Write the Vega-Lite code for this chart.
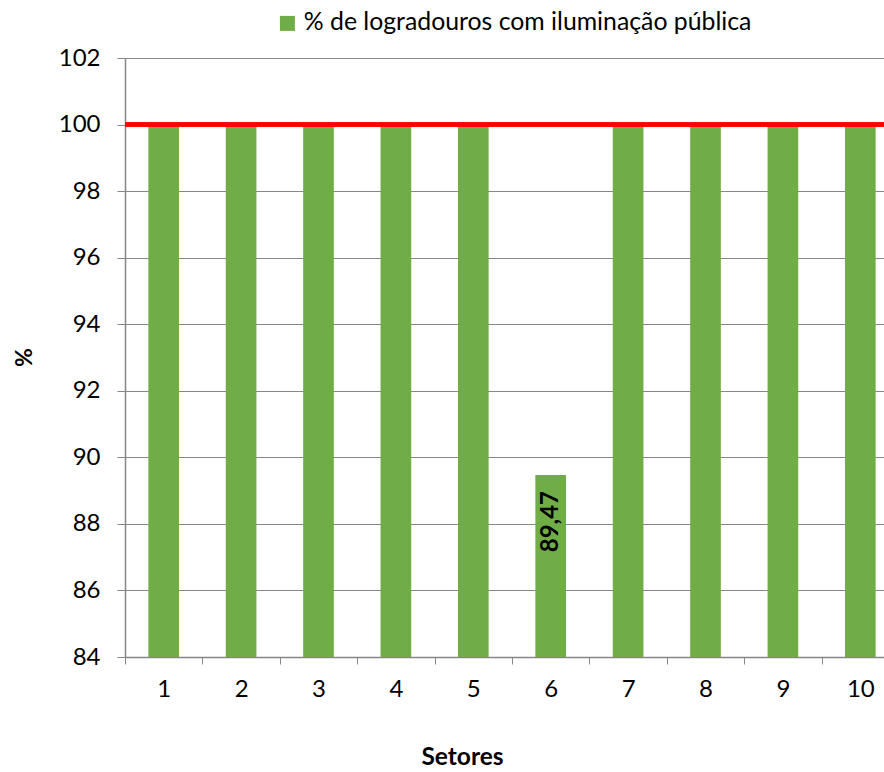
{
  "$schema": "https://vega.github.io/schema/vega-lite/v6.json",
  "width": 759,
  "height": 599,
  "autosize": {"type": "none"},
  "padding": {"left": 125, "top": 58, "right": 0, "bottom": 115},
  "background": "white",
  "config": {
    "view": {"stroke": null},
    "font": "Lato",
    "axis": {"labelFont": "Lato", "titleFont": "Lato", "labelColor": "#000000", "titleColor": "#000000"}
  },
  "data": {
    "values": [
      {"setor": "1", "valor": 100, "serie": "% de logradouros com iluminação pública", "rotulo": ""},
      {"setor": "2", "valor": 100, "serie": "% de logradouros com iluminação pública", "rotulo": ""},
      {"setor": "3", "valor": 100, "serie": "% de logradouros com iluminação pública", "rotulo": ""},
      {"setor": "4", "valor": 100, "serie": "% de logradouros com iluminação pública", "rotulo": ""},
      {"setor": "5", "valor": 100, "serie": "% de logradouros com iluminação pública", "rotulo": ""},
      {"setor": "6", "valor": 89.47, "serie": "% de logradouros com iluminação pública", "rotulo": "89,47"},
      {"setor": "7", "valor": 100, "serie": "% de logradouros com iluminação pública", "rotulo": ""},
      {"setor": "8", "valor": 100, "serie": "% de logradouros com iluminação pública", "rotulo": ""},
      {"setor": "9", "valor": 100, "serie": "% de logradouros com iluminação pública", "rotulo": ""},
      {"setor": "10", "valor": 100, "serie": "% de logradouros com iluminação pública", "rotulo": ""}
    ]
  },
  "encoding": {
    "x": {
      "field": "setor",
      "type": "ordinal",
      "sort": null,
      "scale": {"range": [0, 774], "paddingInner": 0, "paddingOuter": 0},
      "axis": {
        "title": "Setores",
        "titleFontSize": 24.5,
        "titleFontWeight": "bold",
        "titleX": 337,
        "titleY": 100,
        "titleBaseline": "middle",
        "labelAngle": 0,
        "labelFontSize": 24,
        "labelPadding": 13,
        "tickBand": "extent",
        "tickSize": 7,
        "tickColor": "#868686",
        "domainColor": "#868686",
        "domainWidth": 1.5,
        "grid": false
      }
    }
  },
  "layer": [
    {
      "mark": {"type": "bar", "color": "#70AD47", "width": {"band": 0.396}},
      "encoding": {
        "y": {
          "field": "valor",
          "type": "quantitative",
          "scale": {"domain": [84, 102], "zero": false, "nice": false},
          "axis": {
            "title": "%",
            "titleFontSize": 23,
            "titleFontWeight": "bold",
            "titleX": -101,
            "titleY": 299,
            "titleBaseline": "middle",
            "titleAngle": 270,
            "values": [84, 86, 88, 90, 92, 94, 96, 98, 100, 102],
            "labelFontSize": 24,
            "labelPadding": 17,
            "tickSize": 8,
            "tickColor": "#868686",
            "domainColor": "#868686",
            "domainWidth": 1.5,
            "grid": true,
            "gridColor": "#878787",
            "gridWidth": 1
          }
        },
        "y2": {"datum": 84},
        "color": {
          "field": "serie",
          "type": "nominal",
          "scale": {"range": ["#70AD47"]},
          "legend": {
            "title": null,
            "orient": "none",
            "legendX": 150,
            "legendY": -47,
            "symbolType": "square",
            "symbolSize": 225,
            "symbolStrokeWidth": 0,
            "labelFontSize": 24.8,
            "labelFont": "Lato",
            "labelColor": "#000000",
            "labelLimit": 0,
            "labelOffset": 4,
            "padding": 0
          }
        }
      }
    },
    {
      "mark": {"type": "rule", "color": "#FF0000", "strokeWidth": 3.5},
      "encoding": {"y": {"datum": 100}, "x": null}
    },
    {
      "transform": [{"filter": "datum.rotulo != ''"}],
      "mark": {"type": "text", "angle": 270, "align": "right", "baseline": "middle", "dx": -16, "fontSize": 24, "fontWeight": "bold", "color": "#000000"},
      "encoding": {
        "y": {"field": "valor", "type": "quantitative"},
        "text": {"field": "rotulo"}
      }
    }
  ]
}
